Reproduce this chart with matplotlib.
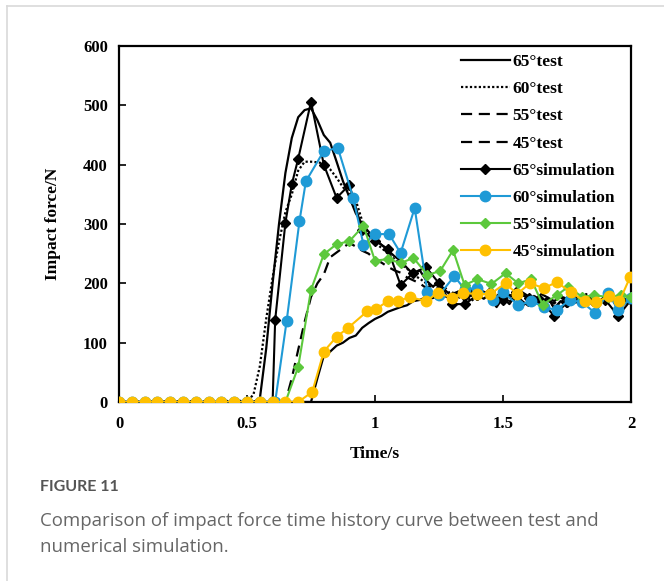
import numpy as np
import matplotlib
matplotlib.use('Agg')
import matplotlib.pyplot as plt
from matplotlib.lines import Line2D

# ---- data ----
t_lead = [0.0, 0.05, 0.1, 0.15, 0.2, 0.25, 0.3, 0.35, 0.4, 0.45, 0.5, 0.55]

sim65_t = t_lead + [0.60, 0.61, 0.65, 0.675, 0.70, 0.75, 0.80, 0.85, 0.90, 0.95, 1.00, 1.05,
                    1.10, 1.15, 1.20, 1.25, 1.30, 1.35, 1.40, 1.45, 1.50, 1.55, 1.60, 1.65,
                    1.70, 1.75, 1.80, 1.85, 1.90, 1.95, 2.00]
sim65_f = [0] * 12 + [0, 138, 302, 367, 410, 506, 400, 344, 366, 290, 272, 258,
                      197, 218, 227, 200, 165, 165, 180, 185, 172, 185, 175, 170,
                      145, 168, 172, 170, 172, 145, 172]

sim60_t = t_lead + [0.60, 0.61, 0.655, 0.705, 0.73, 0.80, 0.855, 0.915, 0.955, 1.00, 1.055, 1.10,
                    1.155, 1.205, 1.25, 1.31, 1.35, 1.40, 1.46, 1.50, 1.56, 1.61, 1.66, 1.71,
                    1.76, 1.81, 1.86, 1.91, 1.95, 2.00]
sim60_f = [0] * 12 + [0, 0, 137, 305, 372, 423, 428, 344, 265, 283, 283, 251,
                      327, 185, 180, 212, 190, 192, 172, 185, 163, 170, 160, 155,
                      172, 168, 150, 184, 155, 175]

sim55_t = t_lead + [0.60, 0.65, 0.70, 0.75, 0.80, 0.85, 0.90, 0.955, 1.00, 1.05, 1.10, 1.15,
                    1.205, 1.255, 1.305, 1.35, 1.40, 1.455, 1.51, 1.56, 1.61, 1.655, 1.71, 1.755,
                    1.81, 1.855, 1.91, 1.96, 2.00]
sim55_f = [0] * 12 + [0, 0, 59, 189, 249, 266, 271, 297, 238, 241, 234, 243,
                      214, 221, 256, 197, 207, 199, 217, 200, 207, 164, 180, 194,
                      177, 180, 177, 180, 177]

sim45_t = t_lead + [0.60, 0.65, 0.70, 0.755, 0.80, 0.85, 0.895, 0.97, 1.005, 1.05, 1.09, 1.135,
                    1.20, 1.245, 1.30, 1.345, 1.40, 1.45, 1.51, 1.555, 1.605, 1.66, 1.71, 1.765,
                    1.82, 1.865, 1.915, 1.955, 1.997]
sim45_f = [0] * 12 + [0, 0, 0, 17, 85, 110, 125, 153, 157, 170, 170, 177,
                      170, 184, 176, 184, 182, 182, 200, 182, 200, 192, 202, 185,
                      170, 168, 179, 170, 211]

t_test = [0.0] + list(np.round(np.arange(0.5, 2.0001, 0.025), 3))

test65 = [0, 0, 0, 5, 90, 200, 300, 386, 445, 480, 492, 495, 475, 450, 437, 405, 372,
          345, 318, 300, 287, 276, 265, 256, 246, 238, 226, 215, 222, 205, 195,
          200, 188, 178, 186, 170, 180, 172, 186, 175, 160, 176, 165, 181, 170,
          162, 178, 168, 176, 158, 170, 160, 175, 168, 179, 165, 172, 168, 176,
          155, 166, 170]
test60 = [0, 2, 12, 60, 140, 210, 270, 320, 350, 390, 405, 405, 404, 402, 392, 378, 362,
          352, 340, 305, 282, 268, 260, 250, 241, 232, 225, 214, 208, 200, 195,
          190, 183, 186, 175, 182, 170, 178, 188, 172, 166, 180, 170, 174, 162,
          170, 180, 165, 172, 160, 168, 176, 165, 172, 182, 170, 166, 175, 170,
          162, 170, 168]
test55 = [0, 0, 0, 0, 0, 0, 0, 0, 40, 88, 135, 177, 200, 215, 244, 252, 260,
          268, 262, 255, 250, 240, 235, 228, 222, 218, 210, 205, 200, 192, 196,
          188, 192, 182, 186, 178, 190, 176, 185, 180, 172, 184, 176, 170, 182,
          175, 168, 180, 172, 166, 176, 170, 180, 174, 168, 178, 172, 182, 170,
          175, 172, 176]
test45 = [0, 0, 0, 0, 0, 0, 0, 0, 0, 0, 0, 0, 40, 78, 85, 95, 100,
          108, 112, 125, 133, 140, 145, 152, 156, 160, 163, 170, 172, 177, 175,
          180, 178, 174, 182, 176, 185, 180, 174, 183, 178, 188, 180, 176, 185,
          178, 172, 182, 176, 170, 178, 174, 182, 172, 168, 176, 170, 178, 172,
          168, 174, 170]

c_blue = '#1f9ad6'
c_green = '#5cc83c'
c_yellow = '#ffc000'

serif = 'Liberation Serif'

fig = plt.figure(figsize=(6.64, 5.81), dpi=100)
ax = fig.add_axes([119 / 664, 1 - 402 / 581, 512 / 664, 356 / 581])

# test curves
ax.plot(t_test, test65, color='black', lw=1.6, ls='-', zorder=3)
ax.plot(t_test, test60, color='black', lw=1.6, ls=(0, (1, 1)), zorder=3)
ax.plot(t_test, test55, color='black', lw=1.6, ls=(0, (5, 3)), zorder=3)
ax.plot(t_test, test45, color='black', lw=1.6, ls='-', zorder=3)

# simulation curves
ax.plot(sim65_t, sim65_f, color='black', lw=1.5, marker='D', ms=5.5, zorder=4)
ax.plot(sim60_t, sim60_f, color=c_blue, lw=1.5, marker='o', ms=7.5, zorder=4)
ax.plot(sim55_t, sim55_f, color=c_green, lw=1.5, marker='D', ms=5.5, zorder=4)
ax.plot(sim45_t, sim45_f, color=c_yellow, lw=1.5, marker='o', ms=7.5, zorder=4)

ax.set_xlim(0, 2)
ax.set_ylim(0, 600)
ax.set_xticks([0, 0.5, 1, 1.5, 2])
ax.set_xticklabels(['0', '0.5', '1', '1.5', '2'])
ax.set_yticks(np.arange(0, 601, 100))
ax.tick_params(direction='in', length=5, width=1.2, pad=8)
ax.tick_params(axis='x', pad=10)
for lab in ax.get_xticklabels() + ax.get_yticklabels():
    lab.set_fontfamily(serif)
    lab.set_fontweight('bold')
    lab.set_fontsize(12)
for sp in ax.spines.values():
    sp.set_linewidth(1.6)

ax.set_xlabel('Time/s', fontfamily=serif, fontweight='bold', fontsize=12.5)
ax.set_ylabel('Impact force/N', fontfamily=serif, fontweight='bold', fontsize=12.5)
ax.xaxis.set_label_coords(0.5, (402 - 446) / 356)
ax.yaxis.set_label_coords((61 - 119) / 512, 0.5)

handles = [
    Line2D([], [], color='black', lw=1.6, ls='-'),
    Line2D([], [], color='black', lw=1.6, ls=(0, (1, 1))),
    Line2D([], [], color='black', lw=1.6, ls=(0, (5, 3))),
    Line2D([], [], color='black', lw=1.6, ls=(0, (5, 3))),
    Line2D([], [], color='black', lw=1.5, marker='D', ms=5.5),
    Line2D([], [], color=c_blue, lw=1.5, marker='o', ms=7.5),
    Line2D([], [], color=c_green, lw=1.5, marker='D', ms=5.5),
    Line2D([], [], color=c_yellow, lw=1.5, marker='o', ms=7.5),
]
labels = ['65°test', '60°test', '55°test', '45°test',
          '65°simulation', '60°simulation', '55°simulation', '45°simulation']
leg = ax.legend(handles, labels, loc='upper right', bbox_to_anchor=(1 - 4 / 512, 1 + 4 / 356),
                frameon=False, prop={'family': serif, 'weight': 'bold', 'size': 12.5},
                labelspacing=0.63, handlelength=2.8, handletextpad=0.15,
                borderaxespad=0.3)
leg.set_zorder(10)

# card border and caption
fig.add_artist(Line2D([7 / 664, 1], [1 - 6 / 581, 1 - 6 / 581], color='#d9d9d9', lw=1.2))
fig.add_artist(Line2D([7 / 664, 7 / 664], [0, 1 - 6 / 581], color='#d9d9d9', lw=1.2))

fig.text(40 / 664, 1 - 487 / 581, 'FIGURE 11', fontfamily='Lato', fontweight='bold',
         fontsize=11.5, color='#555555', va='center', ha='left')
fig.text(40 / 664, 1 - 521 / 581, 'Comparison of impact force time history curve between test and',
         fontfamily='Open Sans', fontsize=13.4, color='#666666', va='center', ha='left')
fig.text(40 / 664, 1 - 547 / 581, 'numerical simulation.',
         fontfamily='Open Sans', fontsize=13.4, color='#666666', va='center', ha='left')

fig.savefig('out.png', dpi=100)
